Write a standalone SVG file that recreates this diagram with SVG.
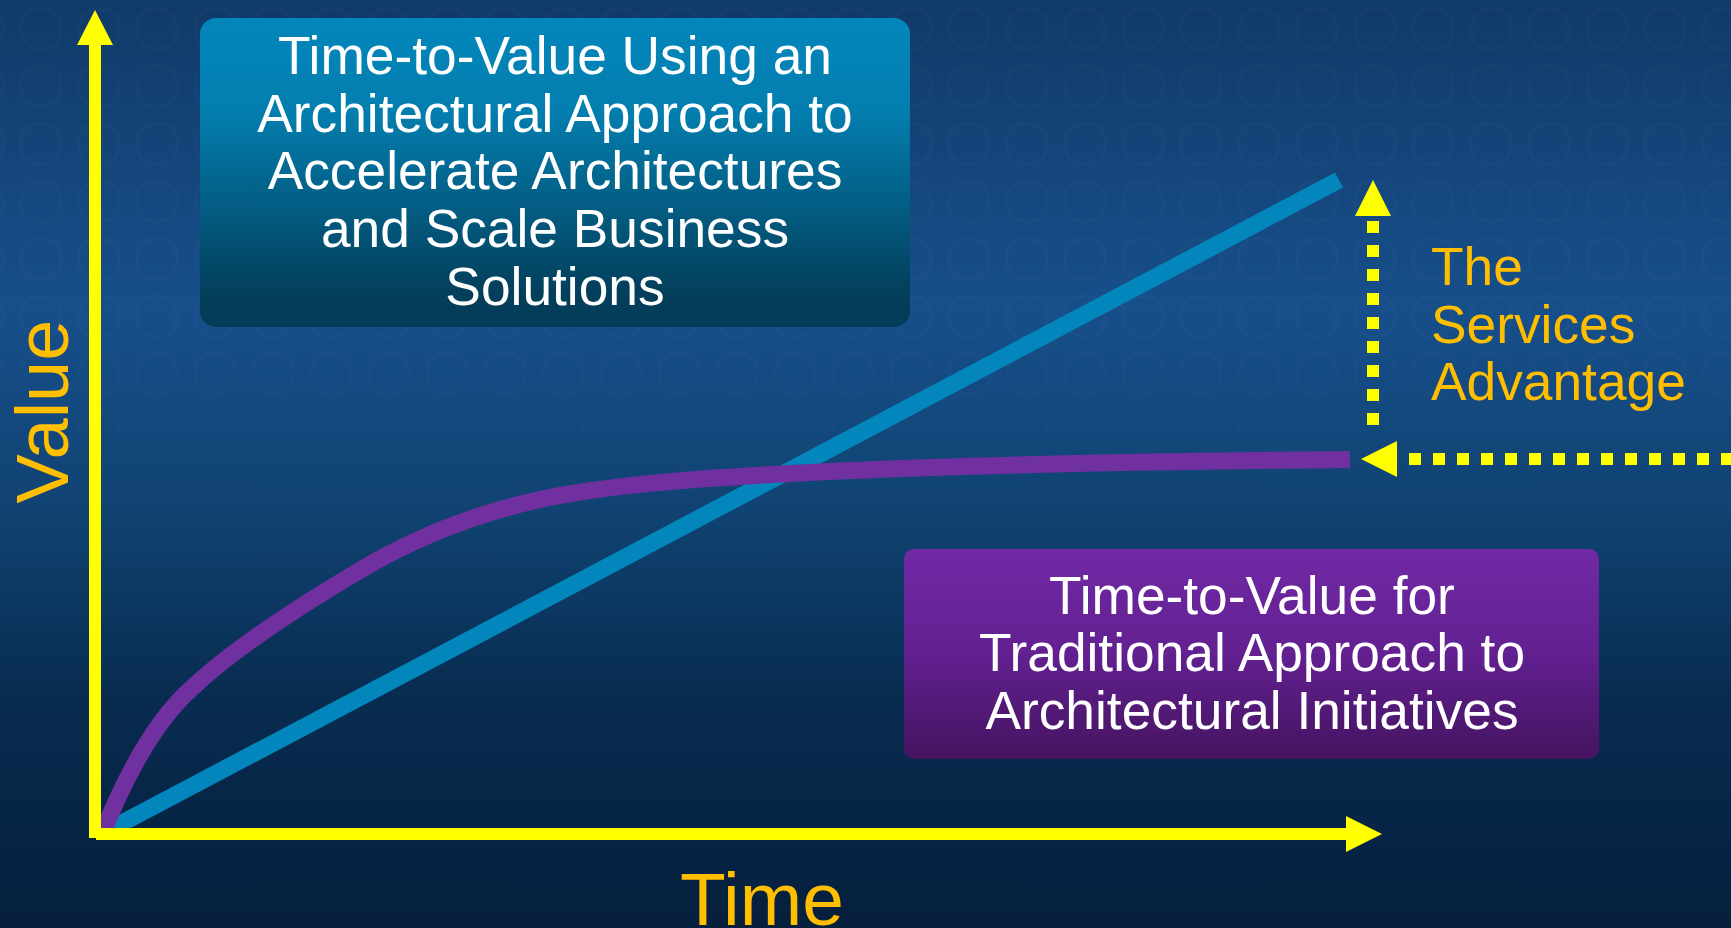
<svg xmlns="http://www.w3.org/2000/svg" width="1731" height="928" viewBox="0 0 1731 928">
<style>
text{font-family:"Liberation Sans",Arial,sans-serif}
.w{fill:#fff;font-size:53.300px;text-anchor:middle}
.o{fill:#ffbe00}
.ax{fill:#ffff00}
.dot{stroke:#ffff00;stroke-width:12;fill:none;stroke-dasharray:12 12}
.curve{fill:none;stroke-width:17}
</style>
<defs>
<linearGradient id="bg" x1="0" y1="0" x2="0" y2="1">
<stop offset="0" stop-color="#103a68"/><stop offset=".33" stop-color="#174f8b"/><stop offset=".55" stop-color="#104372"/><stop offset=".75" stop-color="#082c50"/><stop offset="1" stop-color="#061f3d"/>
</linearGradient>
<linearGradient id="bl" x1="0" y1="0" x2="0" y2="1"><stop offset="0" stop-color="#0386bb"/><stop offset=".3" stop-color="#037eaf"/><stop offset=".9" stop-color="#033e5a"/><stop offset="1" stop-color="#033c58"/></linearGradient>
<linearGradient id="pu" x1="0" y1="0" x2="0" y2="1"><stop offset="0" stop-color="#7129a5"/><stop offset=".5" stop-color="#622090"/><stop offset="1" stop-color="#441460"/></linearGradient>
<linearGradient id="fade" x1="0" y1="0" x2="0" y2="1"><stop offset="0" stop-color="#fff"/><stop offset=".38" stop-color="#fff"/><stop offset=".55" stop-color="#000"/></linearGradient>
<mask id="m"><rect width="1731" height="928" fill="url(#fade)"/></mask>
<pattern id="rings" width="58" height="57.500" patternUnits="userSpaceOnUse" x="12" y="0"><rect x="9" y="9" width="40" height="40" rx="17" fill="none" stroke="#fff" stroke-opacity=".02" stroke-width="3"/></pattern>
</defs>
<rect width="1731" height="928" fill="url(#bg)"/>
<rect width="1731" height="928" fill="url(#rings)" mask="url(#m)"/>
<g id="connectors">
<path class="curve" stroke="#0386bb" d="M105 832L1339 180"/>
<path class="curve" stroke="#7030a0" d="M103 832C120 790 150 725 192 688C230 652 290 612 357 572C410 540 470 515 538 500C600 486 690 478 840 471C1000 464 1180 461 1350 459.500"/>
<rect class="ax" x="89" y="45" width="12" height="793"/>
<path class="ax" d="M95 10L113 45H77Z"/>
<rect class="ax" x="96" y="828" width="1250" height="12"/>
<path class="ax" d="M1382 834L1346 816V852Z"/>
<path class="dot" d="M1373 221V425"/>
<path class="ax" d="M1373 180L1391 216H1355Z"/>
<path class="dot" d="M1409 459H1731"/>
<path class="ax" d="M1361 459L1397 441V477Z"/>
</g>
<g id="node-architectural">
<rect x="200" y="18" width="710" height="309" rx="16" fill="url(#bl)"/>
<text class="w" x="555" y="74">Time-to-Value Using an</text>
<text class="w" x="555" y="132">Architectural Approach to</text>
<text class="w" x="555" y="189">Accelerate Architectures</text>
<text class="w" x="555" y="247">and Scale Business</text>
<text class="w" x="555" y="305">Solutions</text>
</g>
<g id="node-traditional">
<rect x="904" y="549" width="695" height="210" rx="10" fill="url(#pu)"/>
<text class="w" x="1252" y="614">Time-to-Value for</text>
<text class="w" x="1252" y="671">Traditional Approach to</text>
<text class="w" x="1252" y="729">Architectural Initiatives</text>
</g>
<g id="node-advantage" class="o" font-size="53.300">
<text x="1431" y="285">The</text>
<text x="1431" y="343">Services</text>
<text x="1431" y="400">Advantage</text>
</g>
<g id="axis-labels" class="o">
<text font-size="74" text-anchor="middle" transform="translate(68 411.500) rotate(-90)">Value</text>
<text font-size="75" text-anchor="middle" x="762" y="925">Time</text>
</g>
</svg>
